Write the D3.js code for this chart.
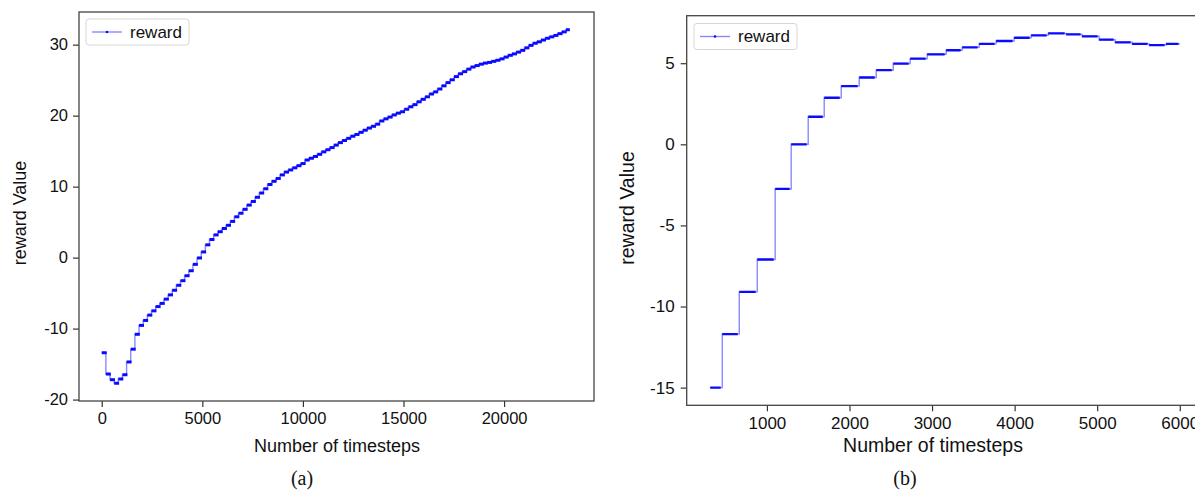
<!DOCTYPE html>
<html>
<head>
<meta charset="utf-8">
<script src="https://cdn.jsdelivr.net/npm/d3@7"></script>
<style>
  body { margin: 0; background: #fff; }
  svg { display: block; }
</style>
</head>
<body>
<div id="chart"></div>
<script>
// (a) reward per evaluation step
var leftSteps = [0,206,412,618,824,1030,1236,1442,1648,1854,
  2060,2266,2472,2678,2884,3090,3296,3502,3708,3914,
  4120,4326,4532,4738,4944,5150,5356,5562,5768,5974,
  6180,6386,6592,6798,7004,7210,7416,7622,7828,8034,
  8240,8446,8652,8858,9064,9270,9476,9682,9888,10094,
  10300,10506,10712,10918,11124,11330,11536,11742,11948,12154,
  12360,12566,12772,12978,13184,13390,13596,13802,14008,14214,
  14420,14626,14832,15038,15244,15450,15656,15862,16068,16274,
  16480,16686,16892,17098,17304,17510,17716,17922,18128,18334,
  18540,18746,18952,19158,19364,19570,19776,19982,20188,20394,
  20600,20806,21012,21218,21424,21630,21836,22042,22248,22454,
  22660,22866,23072]
var leftReward = [-13.4,-16.4,-17.2,-17.7,-17.1,-16.5,-14.7,-12.9,-10.8,-9.55,
  -8.85,-8.1,-7.5,-6.9,-6.45,-5.85,-5.25,-4.6,-3.9,-3.25,
  -2.55,-1.85,-0.95,-0.05,0.8,1.8,2.55,3.2,3.65,4.1,
  4.55,5.1,5.75,6.25,6.8,7.4,7.9,8.5,9.1,9.7,
  10.3,10.75,11.15,11.65,12.05,12.35,12.65,12.95,13.25,13.75,
  14.0,14.25,14.55,14.9,15.2,15.5,15.85,16.2,16.5,16.8,
  17.1,17.35,17.65,17.95,18.25,18.5,18.8,19.25,19.55,19.8,
  20.1,20.35,20.55,20.9,21.25,21.55,21.95,22.3,22.65,23.05,
  23.35,23.75,24.2,24.65,25.05,25.5,25.9,26.2,26.55,26.85,
  27.05,27.25,27.4,27.5,27.65,27.8,28.0,28.25,28.5,28.7,
  28.95,29.2,29.55,29.9,30.2,30.4,30.65,30.9,31.1,31.3,
  31.55,31.8,32.1]
var leftEnd = 23230

// (b) reward per evaluation step, right panel
var rightSteps = [313,459,665,883,1100,1294,1500,1694,1900,2118,
  2324,2530,2735,2941,3171,3365,3570,3776,3994,4200,
  4406,4624,4817,5023,5217,5423,5629,5834]
var rightReward = [-15.0,-11.7,-9.1,-7.1,-2.75,0.0,1.7,2.87,3.59,4.12,
  4.57,4.98,5.28,5.55,5.8,5.98,6.19,6.37,6.57,6.72,
  6.84,6.78,6.66,6.45,6.29,6.19,6.12,6.19]
var rightEnd = 6003

var leftXTicks = [0, 5000, 10000, 15000, 20000]
var leftYTicks = [-20, -10, 0, 10, 20, 30]
var rightXTicks = [1000, 2000, 3000, 4000, 5000, 6000]
var rightYTicks = [-15, -10, -5, 0, 5]

var W = 1195, H = 492
var sans = '"Liberation Sans", Arial, sans-serif'
var serif = '"Liberation Serif", "Times New Roman", serif'

var svg = d3.select('#chart').append('svg').attr('width', W).attr('height', H)

function panel(p) {
  var g = svg.append('g')
  var x = d3.scaleLinear().domain(p.xDomain).range([p.left, p.right])
  var y = d3.scaleLinear().domain(p.yDomain).range([p.bottom, p.top])

  var clipId = 'clip-' + p.name
  svg.append('clipPath').attr('id', clipId).append('rect')
    .attr('x', p.left).attr('y', p.top)
    .attr('width', p.right - p.left).attr('height', p.bottom - p.top)

  var fmt = function (d) { return String(d) }

  var xa = g.append('g').attr('transform', 'translate(0,' + p.bottom + ')')
    .call(d3.axisBottom(x).tickValues(p.xTicks).tickSize(6).tickPadding(p.tickPad).tickFormat(fmt))
  var ya = g.append('g').attr('transform', 'translate(' + p.left + ',0)')
    .call(d3.axisLeft(y).tickValues(p.yTicks).tickSize(6).tickPadding(p.tickPad).tickFormat(fmt))
  ;[xa, ya].forEach(function (a) {
    a.select('.domain').remove()
    a.selectAll('line').attr('stroke', '#333').attr('stroke-width', 1.2)
    a.selectAll('text').attr('fill', '#111').style('font-family', sans).style('font-size', p.tickFont + 'px')
  })

  var plot = g.append('g').attr('clip-path', 'url(#' + clipId + ')')
  var pts = p.steps.map(function (t, i) { return [t, p.values[i]] })
  pts.push([p.end, p.values[p.values.length - 1]])

  var line = d3.line().x(function (d) { return x(d[0]) }).y(function (d) { return y(d[1]) })
    .curve(d3.curveStepAfter)
  plot.append('path').datum(pts).attr('d', line)
    .attr('fill', 'none').attr('stroke', 'rgba(40,40,255,0.55)').attr('stroke-width', 1.4)

  plot.selectAll('line.dash').data(p.steps).enter().append('line')
    .attr('class', 'dash')
    .attr('x1', function (t) { return x(t) })
    .attr('x2', function (t, i) { return x(i < p.steps.length - 1 ? p.steps[i + 1] : p.end) - p.gap })
    .attr('y1', function (t, i) { return y(p.values[i]) })
    .attr('y2', function (t, i) { return y(p.values[i]) })
    .attr('stroke', '#0a0aff').attr('stroke-width', p.dashW)

  g.append('rect').attr('x', p.left).attr('y', p.top)
    .attr('width', p.right - p.left).attr('height', p.bottom - p.top)
    .attr('fill', 'none').attr('stroke', '#444').attr('stroke-width', 1.3)

  // legend
  var lg = g.append('g').attr('transform', 'translate(' + p.legend[0] + ',' + p.legend[1] + ')')
  lg.append('rect').attr('width', 103).attr('height', 26).attr('rx', 3)
    .attr('fill', '#fff').attr('stroke', '#d6d6d6').attr('stroke-width', 1)
  lg.append('line').attr('x1', 6).attr('x2', 36).attr('y1', 13).attr('y2', 13)
    .attr('stroke', 'rgba(40,40,255,0.55)').attr('stroke-width', 1.4)
  lg.append('circle').attr('cx', 21).attr('cy', 13).attr('r', 1.3).attr('fill', '#0a0aff')
  lg.append('text').attr('x', 44).attr('y', 18.5).text('reward')
    .style('font-family', sans).style('font-size', '17px').attr('fill', '#111')

  g.append('text').attr('x', p.xLabel[0]).attr('y', p.xLabel[1]).attr('text-anchor', 'middle')
    .text('Number of timesteps').style('font-family', sans).style('font-size', p.labelFont + 'px').attr('fill', '#111')
  g.append('text').attr('transform', 'translate(' + p.yLabel[0] + ',' + p.yLabel[1] + ') rotate(-90)')
    .attr('text-anchor', 'middle')
    .text('reward Value').style('font-family', sans).style('font-size', p.labelFont + 'px').attr('fill', '#111')
  g.append('text').attr('x', p.caption[0]).attr('y', p.caption[1]).attr('text-anchor', 'middle')
    .text(p.captionText).style('font-family', serif).style('font-size', '20px').attr('fill', '#111')
}

panel({
  name: 'a', left: 79, right: 594, top: 12, bottom: 401,
  xDomain: [-1130, 24470], yDomain: [-20.2, 34.6],
  xTicks: leftXTicks, yTicks: leftYTicks,
  steps: leftSteps, values: leftReward, end: leftEnd,
  gap: -0.8, dashW: 3, tickPad: 5, tickFont: 16.5, labelFont: 18,
  legend: [86, 19], xLabel: [337, 452], yLabel: [26, 213],
  caption: [302, 485], captionText: '(a)'
})

panel({
  name: 'b', left: 686.7, right: 1203.5, top: 15.7, bottom: 405.3,
  xDomain: [28.5, 6287.5], yDomain: [-16.09, 7.93],
  xTicks: rightXTicks, yTicks: rightYTicks,
  steps: rightSteps, values: rightReward, end: rightEnd,
  gap: 1.5, dashW: 2.3, tickPad: 6, tickFont: 17, labelFont: 19.5,
  legend: [694, 23.5], xLabel: [933, 452], yLabel: [634, 208],
  caption: [905, 485], captionText: '(b)'
})
</script>
</body>
</html>
